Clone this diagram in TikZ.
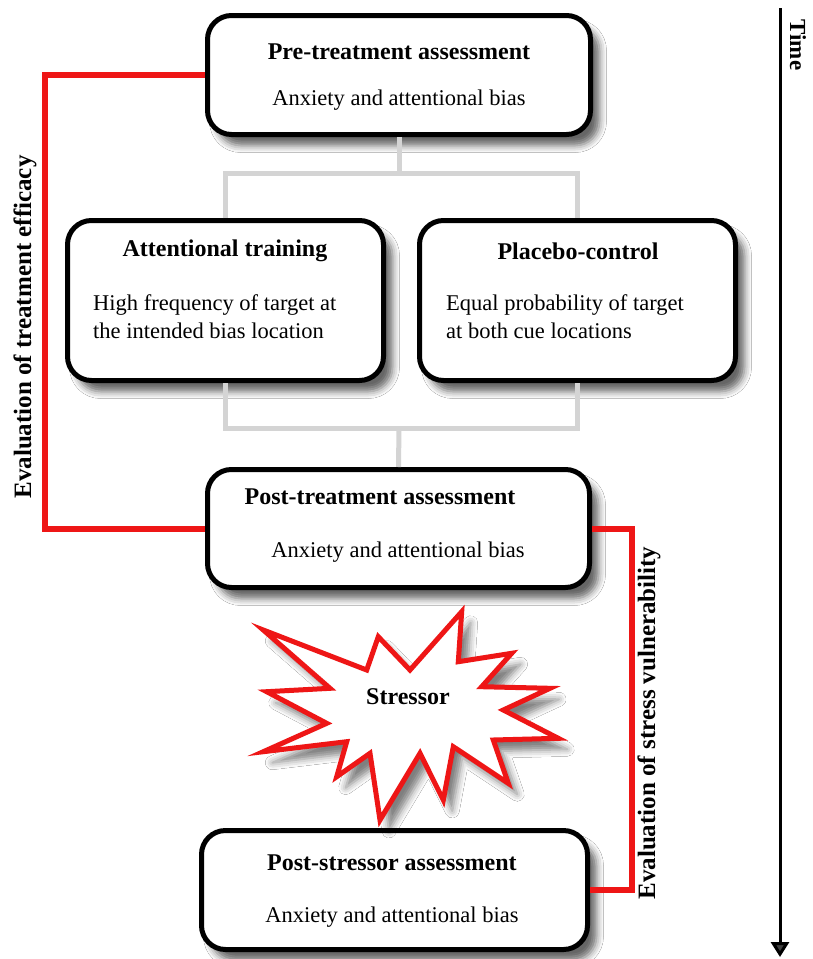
\documentclass[tikz,border=0pt]{standalone}
\usepackage{fontspec}
\setmainfont{Liberation Serif}
\usetikzlibrary{arrows.meta,shadows.blur}
\definecolor{myred}{RGB}{238,22,22}
\definecolor{conngray}{RGB}{212,212,212}
\tikzset{
  stagebox/.style={draw=black, line width=5pt, rounded corners=24pt, fill=white, inner sep=0pt,
    blur shadow={shadow xshift=9pt, shadow yshift=-11pt, shadow blur radius=7pt, shadow opacity=60}},
  titletext/.style={font=\fontsize{24}{28}\selectfont\bfseries, inner sep=0pt},
  bodytext/.style={font=\fontsize{22.5}{28}\selectfont, inner sep=0pt},
  sidelabel/.style={font=\fontsize{25}{28}\selectfont\bfseries, inner sep=0pt, rotate=90},
  grayline/.style={draw=conngray, line width=5pt},
  redline/.style={draw=myred, line width=6pt},
  starline/.style={draw=myred, line width=5pt, fill=white, line join=miter,
    blur shadow={shadow xshift=9pt, shadow yshift=-11pt, shadow blur radius=7pt, shadow opacity=50}},
}
\begin{document}
\begin{tikzpicture}[x=1pt,y=-1pt]
\useasboundingbox[fill=white] (0,0) rectangle (813,959);

% boxes
\node[stagebox, minimum width=383pt, minimum height=119pt] (pre) at (399,75) {};
\node[stagebox, minimum width=316pt, minimum height=160pt] (att) at (225.5,300.5) {};
\node[stagebox, minimum width=316pt, minimum height=160pt] (plc) at (577.5,300.5) {};
\node[stagebox, minimum width=382pt, minimum height=118pt] (post) at (398.5,528.5) {};
\node[stagebox, minimum width=386pt, minimum height=119pt] (ps) at (394.5,890) {};

% texts
\node[titletext] (preT) at (399,52) {Pre-treatment assessment};
\node[bodytext] (preS) at (399,100) {Anxiety and attentional bias};
\node[titletext] (attT) at (225,251) {Attentional training};
\node[bodytext, anchor=west, align=left] (attS) at (93,317) {High frequency of target at\\the intended bias location};
\node[titletext] (plcT) at (578,251) {Placebo-control};
\node[bodytext, anchor=west, align=left] (plcS) at (446,317) {Equal probability of target\\at both cue locations};
\node[titletext] (postT) at (380,497) {Post-treatment assessment};
\node[bodytext] (postS) at (398,552) {Anxiety and attentional bias};
\node[titletext] (psT) at (392,863) {Post-stressor assessment};
\node[bodytext] (psS) at (392,917) {Anxiety and attentional bias};

% stressor star
\draw[starline] (263.3,630) -- (366.7,670) -- (378.3,636.7) -- (410,670) -- (461.7,611.7)
  -- (458.3,661.7) -- (511.7,653.3) -- (481.7,686.7) -- (550,688.3) -- (503.3,710)
  -- (558.3,738.3) -- (493.3,740) -- (508.3,783.3) -- (453.3,746.7) -- (443.3,800)
  -- (420,753.3) -- (380,820) -- (370,753.3) -- (336.7,776.7) -- (346.7,741.7)
  -- (263.3,751.7) -- (326.7,723.3) -- (266.7,691.7) -- (330,688.3) -- cycle;
\node[titletext] (str) at (408,697) {Stressor};

% connector coordinates
\coordinate (split1) at (399,173);
\coordinate (split2) at (399,428);
\coordinate (effx) at (45,300);
\coordinate (vulx) at (632,700);
\coordinate (t0) at (780,8);
\coordinate (t1) at (780,957);

\draw[grayline] (pre.south) -- (split1);
\draw[grayline] (att.north) |- (split1) -| (plc.north);
\draw[grayline] (att.south) |- (split2) -| (plc.south);
\draw[grayline] (split2) -- (post.north);

\draw[redline] (pre.west) -| (effx) |- (post.west);
\draw[redline] (post.east) -| (vulx) |- (ps.east);

\node[sidelabel] (efflab) at (25,327) {Evaluation of treatment efficacy};
\node[sidelabel] (vullab) at (649,723) {Evaluation of stress vulnerability};

% time arrow
\draw[line width=3pt, -{Triangle[length=15pt,width=18pt]}] (t0) -- (t1);
\node[font=\fontsize{23}{26}\selectfont\bfseries, inner sep=0pt, rotate=-90] (time) at (798,45) {Time};
\end{tikzpicture}
\end{document}
